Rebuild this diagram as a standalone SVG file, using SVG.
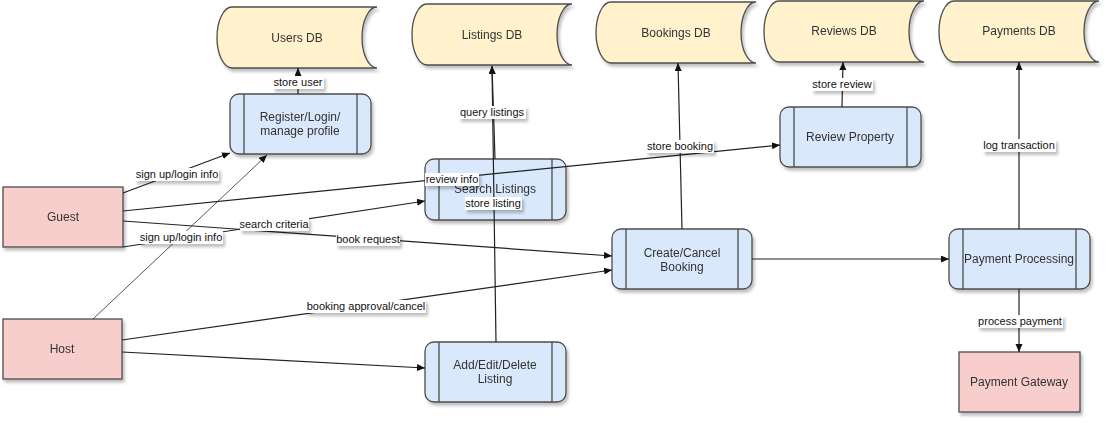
<svg xmlns="http://www.w3.org/2000/svg" width="1111" height="423" viewBox="0 0 1111 423">
<style>
.db{fill:#fff2cc;stroke:#4d4d4d;stroke-width:1.3}
.proc{fill:#dae8fc;stroke:#4d4d4d;stroke-width:1.3}
.ext{fill:#f8cecc;stroke:#4d4d4d;stroke-width:1.3}
.in{stroke:#4d4d4d;stroke-width:1.3;fill:none}
.nt{font-family:"Liberation Sans",Arial,sans-serif;font-size:12px;fill:#333;text-anchor:middle}
.e{fill:none;stroke:#222;stroke-width:1.2;marker-end:url(#arr)}
.thin{stroke:#444;stroke-width:0.9}
.lb{fill:#fff}
.lt{font-family:"Liberation Sans",Arial,sans-serif;font-size:11px;fill:#111;text-anchor:middle}
</style>
<defs>
<filter id="sh" x="-10%" y="-10%" width="130%" height="140%"><feDropShadow dx="2" dy="3" stdDeviation="1.5" flood-color="#000" flood-opacity="0.25"/></filter>
<marker id="arr" markerWidth="9" markerHeight="8" refX="8" refY="3.5" orient="auto" markerUnits="userSpaceOnUse"><path d="M0,0 L8,3.5 L0,7 Z" fill="#111"/></marker>
</defs>
<rect width="1111" height="423" fill="#fff"/>
<g id="users-db" filter="url(#sh)"><path class="db" d="M232,7 L377,7 A15,30.5 0 0 0 377,68 L232,68 A15,30.5 0 0 1 232,7 Z"/><text class="nt" x="297" y="42">Users DB</text></g>
<g id="listings-db" filter="url(#sh)"><path class="db" d="M427,4 L572,4 A15,30.5 0 0 0 572,65 L427,65 A15,30.5 0 0 1 427,4 Z"/><text class="nt" x="492" y="39">Listings DB</text></g>
<g id="bookings-db" filter="url(#sh)"><path class="db" d="M611,2 L756,2 A15,30.5 0 0 0 756,63 L611,63 A15,30.5 0 0 1 611,2 Z"/><text class="nt" x="676" y="37">Bookings DB</text></g>
<g id="reviews-db" filter="url(#sh)"><path class="db" d="M779,1 L924,1 A15,30.5 0 0 0 924,62 L779,62 A15,30.5 0 0 1 779,1 Z"/><text class="nt" x="844" y="35">Reviews DB</text></g>
<g id="payments-db" filter="url(#sh)"><path class="db" d="M954,1 L1099,1 A15,30.5 0 0 0 1099,62 L954,62 A15,30.5 0 0 1 954,1 Z"/><text class="nt" x="1019" y="35">Payments DB</text></g>
<g id="register" filter="url(#sh)"><rect class="proc" x="230" y="94" width="141" height="60" rx="9"/><path class="in" d="M244,94 V154 M357,94 V154"/><text class="nt" x="300" y="121">Register/Login/</text><text class="nt" x="300" y="135">manage profile</text></g>
<g id="search-listings" filter="url(#sh)"><rect class="proc" x="425" y="159" width="141" height="61" rx="9"/><path class="in" d="M439,159 V220 M552,159 V220"/><text class="nt" x="495" y="193">Search Listings</text></g>
<g id="create-cancel-booking" filter="url(#sh)"><rect class="proc" x="612" y="229" width="140" height="60" rx="9"/><path class="in" d="M626,229 V289 M738,229 V289"/><text class="nt" x="682" y="257">Create/Cancel</text><text class="nt" x="682" y="271">Booking</text></g>
<g id="review-property" filter="url(#sh)"><rect class="proc" x="780" y="107" width="141" height="60" rx="9"/><path class="in" d="M794,107 V167 M907,107 V167"/><text class="nt" x="850" y="141">Review Property</text></g>
<g id="payment-processing" filter="url(#sh)"><rect class="proc" x="949" y="229" width="141" height="60" rx="9"/><path class="in" d="M963,229 V289 M1076,229 V289"/><text class="nt" x="1019" y="263">Payment Processing</text></g>
<g id="add-edit-listing" filter="url(#sh)"><rect class="proc" x="425" y="342" width="141" height="60" rx="9"/><path class="in" d="M439,342 V402 M552,342 V402"/><text class="nt" x="495" y="369">Add/Edit/Delete</text><text class="nt" x="495" y="383">Listing</text></g>
<g id="guest" filter="url(#sh)"><rect class="ext" x="3" y="187" width="120" height="60"/><text class="nt" x="63" y="221">Guest</text></g>
<g id="host" filter="url(#sh)"><rect class="ext" x="3" y="319" width="119" height="60"/><text class="nt" x="62" y="353">Host</text></g>
<g id="payment-gateway" filter="url(#sh)"><rect class="ext" x="959" y="352" width="121" height="60"/><text class="nt" x="1019" y="386">Payment Gateway</text></g>
<g id="connectors">
<path class="e" d="M298,94 L298,68"/>
<path class="e" d="M123,193 L230,153"/>
<path class="e thin" d="M93,319 L267,155"/>
<path class="e" d="M123,247 L425,201"/>
<path class="e" d="M123,211 L780,145"/>
<path class="e" d="M123,221 L612,256"/>
<path class="e" d="M122,340 L612,270"/>
<path class="e" d="M122,352 L425,368"/>
<path class="e" d="M495,159 L492,66"/>
<path class="e" d="M496,342 L492,66"/>
<path class="e" d="M682,229 L678,63"/>
<path class="e" d="M842,107 L843,62"/>
<path class="e" d="M752,259 L949,259"/>
<path class="e" d="M1019,229 L1019,62"/>
<path class="e" d="M1019,289 L1019,352"/>
<g filter="url(#sh)">
<rect class="lb" x="273" y="76" width="51" height="13"/>
<rect class="lb" x="135" y="168" width="84" height="13"/>
<rect class="lb" x="139" y="231" width="84" height="13"/>
<rect class="lb" x="240" y="218" width="69" height="13"/>
<rect class="lb" x="425" y="173" width="54" height="13"/>
<rect class="lb" x="336" y="233" width="64" height="13"/>
<rect class="lb" x="306" y="300" width="120" height="13"/>
<rect class="lb" x="459" y="106" width="67" height="13"/>
<rect class="lb" x="465" y="197" width="57" height="13"/>
<rect class="lb" x="646" y="140" width="68" height="13"/>
<rect class="lb" x="812" y="78" width="61" height="13"/>
<rect class="lb" x="983" y="139" width="73" height="13"/>
<rect class="lb" x="978" y="315" width="85" height="13"/>
</g>
<text class="lt" x="298" y="86">store user</text>
<text class="lt" x="177" y="178">sign up/login info</text>
<text class="lt" x="181" y="241">sign up/login info</text>
<text class="lt" x="274" y="228">search criteria</text>
<text class="lt" x="452" y="183">review info</text>
<text class="lt" x="368" y="243">book request</text>
<text class="lt" x="366" y="310">booking approval/cancel</text>
<text class="lt" x="492" y="116">query listings</text>
<text class="lt" x="493" y="207">store listing</text>
<text class="lt" x="680" y="150">store booking</text>
<text class="lt" x="842" y="88">store review</text>
<text class="lt" x="1019" y="149">log transaction</text>
<text class="lt" x="1020" y="325">process payment</text>
</g>
</svg>
